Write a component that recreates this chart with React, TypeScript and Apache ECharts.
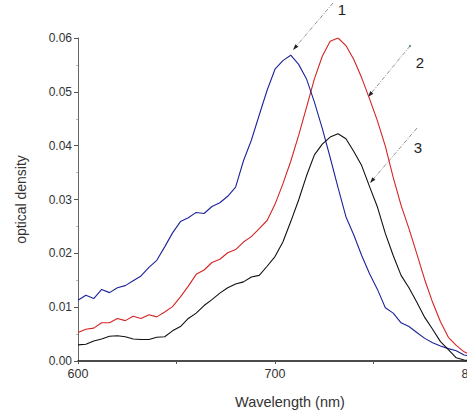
import React, { useEffect, useRef } from "react";
import * as echarts from "echarts";

const wavelengths = [
  600, 604, 608, 612, 616, 620, 624, 628, 632, 636, 640, 644, 648, 652, 656, 660, 664, 668, 672, 676,
  680, 684, 688, 692, 696, 700, 704, 708, 712, 716, 720, 724, 728, 732, 736, 740, 744, 748, 752, 756,
  760, 764, 768, 772, 776, 780, 784, 788, 792, 796, 800,
];

const curve1 = [
  0.0113, 0.0122, 0.0116, 0.0133, 0.0127, 0.0136, 0.014, 0.0149, 0.0158, 0.0174, 0.0187, 0.0212,
  0.0238, 0.0259, 0.0266, 0.0276, 0.0274, 0.0287, 0.0294, 0.0306, 0.0323, 0.0372, 0.041, 0.0457,
  0.0503, 0.0542, 0.0558, 0.0568, 0.0551, 0.0524, 0.0481, 0.0432, 0.0378, 0.0322, 0.0268, 0.0234,
  0.0196, 0.0162, 0.0133, 0.0099, 0.0089, 0.0071, 0.0064, 0.0053, 0.0042, 0.0034, 0.0028, 0.0023,
  0.0019, 0.0011, 0.0009,
];

const curve2 = [
  0.0053, 0.0059, 0.0061, 0.0071, 0.0071, 0.0079, 0.0075, 0.0083, 0.0079, 0.0086, 0.0082, 0.0091,
  0.0101, 0.0119, 0.0139, 0.0161, 0.0169, 0.0183, 0.0189, 0.0201, 0.0207, 0.0221, 0.0231, 0.0246,
  0.0261, 0.0291, 0.0329, 0.0371, 0.0419, 0.0471, 0.0524, 0.0566, 0.0594, 0.06, 0.0586, 0.056,
  0.0526, 0.0487, 0.0446, 0.0399, 0.0341, 0.0289, 0.0246, 0.0199, 0.0151, 0.0109, 0.0073, 0.0044,
  0.0029, 0.0017, 0.001,
];

const curve3 = [
  0.003, 0.0031, 0.0037, 0.0041, 0.0046, 0.0047, 0.0045, 0.0041, 0.004, 0.004, 0.0044, 0.0045,
  0.0056, 0.0064, 0.0079, 0.0089, 0.0103, 0.0114, 0.0126, 0.0136, 0.0143, 0.0147, 0.0156, 0.0159,
  0.0176, 0.0194, 0.0221, 0.0259, 0.0299, 0.0344, 0.0383, 0.0403, 0.0416, 0.0422, 0.0413, 0.0389,
  0.0363, 0.0324, 0.0286, 0.0237, 0.0196, 0.0159, 0.0136, 0.0109, 0.0081, 0.0059, 0.0036, 0.0021,
  0.0006, 0.0002, 0.0,
];

const yTicks = ["0.00", "0.01", "0.02", "0.03", "0.04", "0.05", "0.06"];
const xLabels = ["600", "700", "800"];
const curveLabels = ["1", "2", "3"];

const pair = (ys: number[]) => wavelengths.map((x, i) => [x, ys[i]]);

function arrow(x1: number, y1: number, x2: number, y2: number, label: string, lx: number, ly: number) {
  const dx = x2 - x1;
  const dy = y2 - y1;
  const len = Math.sqrt(dx * dx + dy * dy);
  const ux = dx / len;
  const uy = dy / len;
  const bx = x2 - ux * 6;
  const by = y2 - uy * 6;
  const px = -uy * 2;
  const py = ux * 2;
  return [
    {
      type: "line",
      shape: { x1, y1, x2: bx, y2: by },
      style: { stroke: "#777", lineWidth: 0.8, lineDash: [4, 1.5, 1, 1.5] },
      silent: true,
    },
    {
      type: "polygon",
      shape: { points: [[x2, y2], [bx + px, by + py], [bx - px, by - py]] },
      style: { fill: "#222" },
      silent: true,
    },
    {
      type: "text",
      x: lx,
      y: ly,
      style: {
        text: label,
        fill: "#222",
        font: "15px Arial, 'Liberation Sans', sans-serif",
        align: "center",
        verticalAlign: "middle",
      },
      silent: true,
    },
  ];
}

export default function App() {
  const ref = useRef<HTMLDivElement>(null);
  useEffect(() => {
    if (!ref.current) return;
    const chart = echarts.init(ref.current, null, { renderer: "svg" });
    const font = "Arial, 'Liberation Sans', sans-serif";
    chart.setOption({
      animation: false,
      backgroundColor: "#fff",
      grid: {
        left: 78,
        right: -5,
        top: 38,
        bottom: 50,
        containLabel: false,
        outerBoundsMode: "none",
      },
      xAxis: {
        type: "value",
        min: 600,
        max: 800,
        interval: 50,
        axisLine: { show: true, lineStyle: { color: "#111", width: 1.5 } },
        axisTick: { show: true, length: 3, lineStyle: { color: "#555" } },
        splitLine: { show: false },
        axisLabel: {
          color: "#333",
          fontSize: 12.5,
          fontFamily: font,
          margin: 6,
          formatter: (v: number) => (xLabels.includes(String(v)) ? String(v) : ""),
        },
      },
      yAxis: {
        type: "value",
        min: 0,
        max: 0.06,
        interval: 0.01,
        name: "optical density",
        nameLocation: "middle",
        nameGap: 50,
        nameTextStyle: { color: "#333", fontSize: 14, fontFamily: font },
        axisLine: { show: true, lineStyle: { color: "#666", width: 1 } },
        axisTick: { show: true, length: 4, lineStyle: { color: "#555" } },
        minorTick: { show: true, splitNumber: 2, length: 2, lineStyle: { color: "#bbb" } },
        splitLine: { show: false },
        axisLabel: {
          color: "#333",
          fontSize: 12,
          fontFamily: font,
          margin: 6,
          formatter: (v: number) => yTicks[Math.round(v * 100)] ?? "",
        },
      },
      series: [
        {
          type: "line",
          data: pair(curve1),
          showSymbol: false,
          lineStyle: { color: "#1c2499", width: 1.1 },
          itemStyle: { color: "#1c2499" },
          z: 3,
        },
        {
          type: "line",
          data: pair(curve2),
          showSymbol: false,
          lineStyle: { color: "#d42424", width: 1.1 },
          itemStyle: { color: "#d42424" },
          z: 2,
        },
        {
          type: "line",
          data: pair(curve3),
          showSymbol: false,
          lineStyle: { color: "#111", width: 1.1 },
          itemStyle: { color: "#111" },
          z: 4,
        },
      ],
      graphic: [
        ...arrow(333, 3, 293, 50, curveLabels[0], 342, 9),
        ...arrow(410, 46, 368, 97, curveLabels[1], 420, 62),
        ...arrow(417, 128, 370, 183, curveLabels[2], 418, 147),
        {
          type: "circle",
          shape: { cx: 410, cy: 46, r: 1.2 },
          style: { fill: "#6a9a7a" },
          silent: true,
        },
        {
          type: "text",
          x: 290,
          y: 402,
          style: {
            text: "Wavelength (nm)",
            fill: "#333",
            font: `14.5px ${font}`,
            align: "center",
            verticalAlign: "middle",
          },
          silent: true,
        },
      ],
    });
    return () => chart.dispose();
  }, []);
  return (
    <div
      ref={ref}
      style={{ position: "absolute", left: 0, top: 0, width: 467, height: 411 }}
    />
  );
}
